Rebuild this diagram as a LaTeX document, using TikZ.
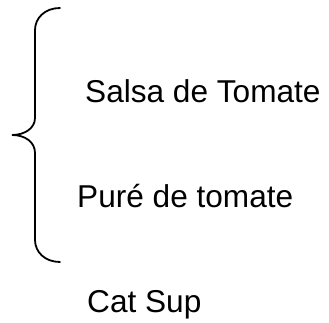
\documentclass[tikz,border=0pt]{standalone}
\usepackage{fontspec}
\setmainfont{Liberation Sans}
\usepackage{tikz}
\tikzset{
  item/.style = {anchor=base west, inner sep=0pt, font=\fontsize{31.6}{36}\selectfont},
  bracepen/.style = {draw=black, line width=1.8pt, line cap=round},
}

\begin{document}
\begin{tikzpicture}[x=1pt, y=1pt]
\useasboundingbox (0,0) rectangle (329,323);
\node [item] (S) at (85,220) {Salsa de Tomate};
\node [item] (P) at (77,115) {Puré de tomate};
\node [item] (C) at (87,10) {Cat Sup};
% the brace
\draw [bracepen] (60,315) .. controls (45,315) and (35,305) .. (35,293)
  -- (35,205) .. controls (35,195) and (25,188) .. (12,188)
  .. controls (25,188) and (35,181) .. (35,170)
  -- (35,83) .. controls (35,71) and (45,61) .. (60,61);
\end{tikzpicture}
\end{document}
